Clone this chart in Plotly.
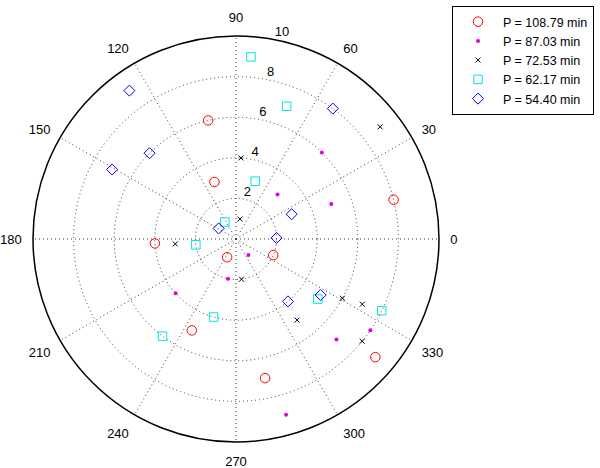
import plotly.graph_objects as go

# ---- data (radius, angle in degrees) ----
red_r = [6, 3, 4, 1, 2, 5, 7, 9, 8]
red_theta = [103.2, 110.7, 183.1, 244.1, 336.6, 244.2, 281.8, 319.7, 14.0]

mag_r = [6, 5, 3, 1, 2, 4, 9, 7, 8]
mag_theta = [45.2, 20.2, 47.0, 307.7, 258.7, 222.0, 285.9, 315.0, 325.8]

blk_r = [9, 4, 1, 3, 2, 5, 6, 7, 8]
blk_theta = [37.9, 86.5, 78.7, 184.6, 277.8, 307.0, 330.9, 332.7, 321.0]

cyan_r = [9, 7, 3, 1, 2, 4, 6, 5, 8]
cyan_theta = [85.3, 69.1, 71.6, 123.3, 188.3, 254.0, 232.9, 323.7, 333.8]

blue_r = [9, 6, 7, 1, 3, 2, 8, 4, 5]
blue_theta = [125.7, 135.2, 150.7, 148.6, 24.0, 1.5, 53.4, 309.8, 326.5]

series_names = ["P = 108.79 min", "P = 87.03 min", "P = 72.53 min",
                "P = 62.17 min", "P = 54.40 min"]

radial_ticks = [2, 4, 6, 8, 10]
angle_ticks = [0, 30, 60, 90, 120, 150, 180, 210, 240, 270, 300, 330]
RMAX = 10

FONT = "Liberation Sans, Arial, Helvetica, sans-serif"
GRID = "#3a3a3a"

fig = go.Figure()

fig.add_trace(go.Scatterpolar(
    r=red_r, theta=red_theta, mode="markers", name=series_names[0],
    marker=dict(symbol="circle-open", size=9.5, color="#ff0000",
                line=dict(width=1, color="#ff0000"))))
fig.add_trace(go.Scatterpolar(
    r=mag_r, theta=mag_theta, mode="markers", name=series_names[1],
    marker=dict(symbol="circle", size=4, color="#e000e0",
                line=dict(width=0))))
fig.add_trace(go.Scatterpolar(
    r=blk_r, theta=blk_theta, mode="markers", name=series_names[2],
    marker=dict(symbol="x-thin-open", size=5, color="#000000",
                line=dict(width=1, color="#000000"))))
fig.add_trace(go.Scatterpolar(
    r=cyan_r, theta=cyan_theta, mode="markers", name=series_names[3],
    marker=dict(symbol="square-open", size=8.5, color="#00e5e5",
                line=dict(width=1, color="#00e5e5"))))
fig.add_trace(go.Scatterpolar(
    r=blue_r, theta=blue_theta, mode="markers", name=series_names[4],
    marker=dict(symbol="diamond-open", size=8.5, color="#0000ff",
                line=dict(width=1, color="#0000ff"))))

# range labels along a spoke near 80 degrees
fig.add_trace(go.Scatterpolar(
    r=radial_ticks, theta=[79] * len(radial_ticks),
    mode="text", text=[str(t) for t in radial_ticks],
    textposition="top right", cliponaxis=False, showlegend=False,
    hoverinfo="skip", textfont=dict(family=FONT, size=13, color="black")))

fig.update_layout(
    width=600, height=468,
    margin=dict(l=0, r=0, t=0, b=0),
    paper_bgcolor="white",
    font=dict(family=FONT, size=13, color="black"),
    polar=dict(
        domain=dict(x=[33 / 600, 439 / 600], y=[26 / 468, 432 / 468]),
        bgcolor="white",
        radialaxis=dict(range=[0, RMAX], tickvals=radial_ticks[:-1],
                        showticklabels=False, ticks="", showline=False,
                        gridcolor=GRID, griddash="1px,3px", gridwidth=1),
        angularaxis=dict(tickvals=angle_ticks,
                         ticktext=[str(a) for a in angle_ticks],
                         showticklabels=True, ticks="outside", ticklen=8,
                         tickcolor="rgba(0,0,0,0)",
                         tickfont=dict(family=FONT, size=13, color="black"),
                         rotation=0, direction="counterclockwise",
                         showline=True, linecolor="black", linewidth=1.5,
                         gridcolor=GRID, griddash="1px,3px", gridwidth=1),
    ),
    legend=dict(x=452 / 600, y=1 - 6 / 468, xanchor="left", yanchor="top",
                bordercolor="black", borderwidth=1, bgcolor="white",
                font=dict(family=FONT, size=12.5, color="black"),
                itemwidth=40),
    showlegend=True,
)

fig.write_html("out.html",
               config={"displayModeBar": False},
               post_script="document.body.style.margin='0';")
